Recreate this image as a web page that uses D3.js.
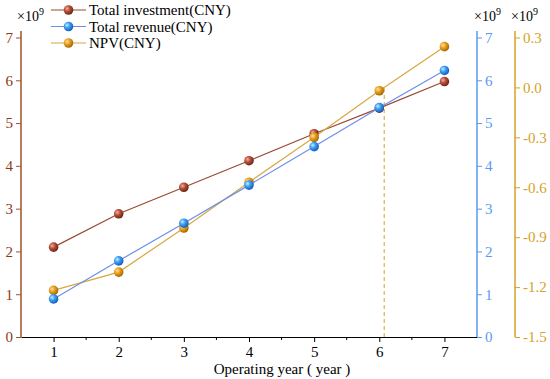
<!DOCTYPE html>
<html><head><meta charset="utf-8">
<script src="https://cdn.jsdelivr.net/npm/d3@7/dist/d3.min.js"></script>
<style>body{margin:0;background:#fff}svg{display:block}</style>
</head><body>
<svg id="c" width="550" height="379" font-family="Liberation Serif, Times New Roman, serif"></svg>
<script>
const years = [1, 2, 3, 4, 5, 6, 7];
const investment = [2.10, 2.88, 3.50, 4.12, 4.75, 5.35, 5.97];
const revenue = [0.89, 1.78, 2.66, 3.55, 4.45, 5.36, 6.23];
const npv = [-1.22, -1.11, -0.845, -0.57, -0.30, -0.02, 0.245];
const leftTicks = [0, 1, 2, 3, 4, 5, 6, 7];
const blueTicks = [0, 1, 2, 3, 4, 5, 6, 7];
const npvTicks = [-1.5, -1.2, -0.9, -0.6, -0.3, 0.0, 0.3];
const xTicks = [1, 2, 3, 4, 5, 6, 7];
const xMinor = [1.5, 2.5, 3.5, 4.5, 5.5, 6.5];
const names = ["Total investment(CNY)", "Total revenue(CNY)", "NPV(CNY)"];

const FONT = "Liberation Serif, Times New Roman, serif";
const C = {
  inv: "#9a4a33", invAxis: "#a0522d", invTxt: "#8b3a1a",
  rev: "#6b8fe8", revAxis: "#5a9af0", revTxt: "#5a9af0",
  npv: "#d6a840", npvAxis: "#d4a22a", npvTxt: "#d4a22a"
};

const svg = d3.select("#c");
const X0 = 21, X1 = 477, Y0 = 337, YT = 31;
const x = d3.scaleLinear().domain([0.5, 7.5]).range([X0, X1]);
const yL = d3.scaleLinear().domain([0, 7]).range([Y0, 37.5]);
const yN = d3.scaleLinear().domain([-1.5, 0.3]).range([Y0, 37.5]);
const axR = 515;

const defs = svg.append("defs");
function grad(id, light, mid, dark) {
  const g = defs.append("radialGradient").attr("id", id).attr("cx", "35%").attr("cy", "35%").attr("r", "65%");
  g.append("stop").attr("offset", "0%").attr("stop-color", light);
  g.append("stop").attr("offset", "45%").attr("stop-color", mid);
  g.append("stop").attr("offset", "100%").attr("stop-color", dark);
}
grad("gInv", "#f3b0a0", "#b8503a", "#6e2616");
grad("gRev", "#c8ecff", "#3aa0f0", "#1a5fc0");
grad("gNpv", "#ffe0a0", "#e8a020", "#a86a00");

// dashed line at NPV zero crossing
let xc = null;
for (let i = 0; i < npv.length - 1; i++) {
  if (npv[i] <= 0 && npv[i + 1] > 0) xc = years[i] + (0 - npv[i]) / (npv[i + 1] - npv[i]);
}
if (xc !== null) {
  svg.append("line").attr("x1", x(xc)).attr("x2", x(xc)).attr("y1", Y0).attr("y2", yN(0))
    .attr("stroke", C.npvAxis).attr("stroke-width", 1).attr("stroke-dasharray", "4,3");
}

// axes
const gx = svg.append("g").attr("transform", `translate(0,${Y0})`)
  .call(d3.axisBottom(x).tickValues(xTicks).tickSize(5).tickPadding(4).tickSizeOuter(0).tickFormat(d3.format("d")))
  .attr("font-family", FONT);
gx.select(".domain").attr("stroke", "#000").attr("stroke-width", 1.2);
gx.selectAll(".tick line").attr("stroke", "#000");
gx.selectAll("text").attr("font-size", 15).attr("fill", "#000").attr("dy", "0.72em");
svg.append("g").attr("transform", `translate(0,${Y0})`).selectAll("line").data(xMinor).join("line")
  .attr("x1", d => x(d)).attr("x2", d => x(d)).attr("y1", 0).attr("y2", 3).attr("stroke", "#000");

function styleAxis(g, col, txt) {
  g.attr("font-family", FONT);
  g.select(".domain").remove();
  g.selectAll(".tick line").attr("stroke", col).attr("stroke-width", 1);
  g.selectAll("text").attr("font-size", 15).attr("fill", txt);
}
const gl = svg.append("g").attr("transform", `translate(${X0},0)`)
  .call(d3.axisLeft(yL).tickValues(leftTicks).tickSize(5).tickPadding(3).tickFormat(d3.format("d")));
styleAxis(gl, C.invAxis, C.invTxt);
svg.append("line").attr("x1", X0).attr("x2", X0).attr("y1", YT).attr("y2", Y0).attr("stroke", C.invAxis).attr("stroke-width", 1.5);

const gb = svg.append("g").attr("transform", `translate(${X1},0)`)
  .call(d3.axisRight(yL).tickValues(blueTicks).tickSize(5).tickFormat(d3.format("d")));
styleAxis(gb, C.revAxis, C.revTxt);
svg.append("line").attr("x1", X1).attr("x2", X1).attr("y1", YT).attr("y2", Y0).attr("stroke", C.revAxis).attr("stroke-width", 1.5);

const gn = svg.append("g").attr("transform", `translate(${axR},0)`)
  .call(d3.axisRight(yN).tickValues(npvTicks).tickSize(5).tickFormat(d3.format(".1f")));
styleAxis(gn, C.npvAxis, C.npvTxt);
gn.selectAll("text").text(d => d3.format(".1f")(d).replace("−", "-"));
svg.append("line").attr("x1", axR).attr("x2", axR).attr("y1", YT).attr("y2", Y0).attr("stroke", C.npvAxis).attr("stroke-width", 1.5);

// x10^9 labels
function mult(px, py) {
  const t = svg.append("text").attr("x", px).attr("y", py).attr("font-size", 14).attr("fill", "#000");
  t.append("tspan").text("×10");
  t.append("tspan").attr("font-size", 10).attr("dy", -6).text("9");
}
mult(17, 21);
mult(474, 21);
mult(511, 21);

// series
function series(vals, y, col, gid) {
  const line = d3.line().x((d, i) => x(years[i])).y(d => y(d));
  svg.append("path").datum(vals).attr("d", line).attr("fill", "none").attr("stroke", col).attr("stroke-width", 1.2);
  svg.append("g").selectAll("circle").data(vals).join("circle")
    .attr("cx", (d, i) => x(years[i])).attr("cy", d => y(d)).attr("r", 4.8)
    .attr("fill", `url(#${gid})`);
}
series(investment, yL, C.inv, "gInv");
series(npv, yN, C.npv, "gNpv");
series(revenue, yL, C.rev, "gRev");

// x label
svg.append("text").attr("x", 282).attr("y", 374).attr("text-anchor", "middle").attr("font-size", 15)
  .attr("fill", "#000").text("Operating year ( year )");

// legend
const leg = [
  { n: names[0], c: C.inv, g: "gInv" },
  { n: names[1], c: C.rev, g: "gRev" },
  { n: names[2], c: C.npv, g: "gNpv" }
];
const lg = svg.append("g");
leg.forEach((d, i) => {
  const ly = 10 + i * 16.5;
  lg.append("line").attr("x1", 51).attr("x2", 86).attr("y1", ly).attr("y2", ly).attr("stroke", d.c).attr("stroke-width", 1.2);
  lg.append("circle").attr("cx", 68.5).attr("cy", ly).attr("r", 4.8).attr("fill", `url(#${d.g})`);
  lg.append("text").attr("x", 89).attr("y", ly).attr("dy", "0.35em").attr("font-size", 15).attr("fill", "#000").text(d.n);
});
</script>
</body></html>
